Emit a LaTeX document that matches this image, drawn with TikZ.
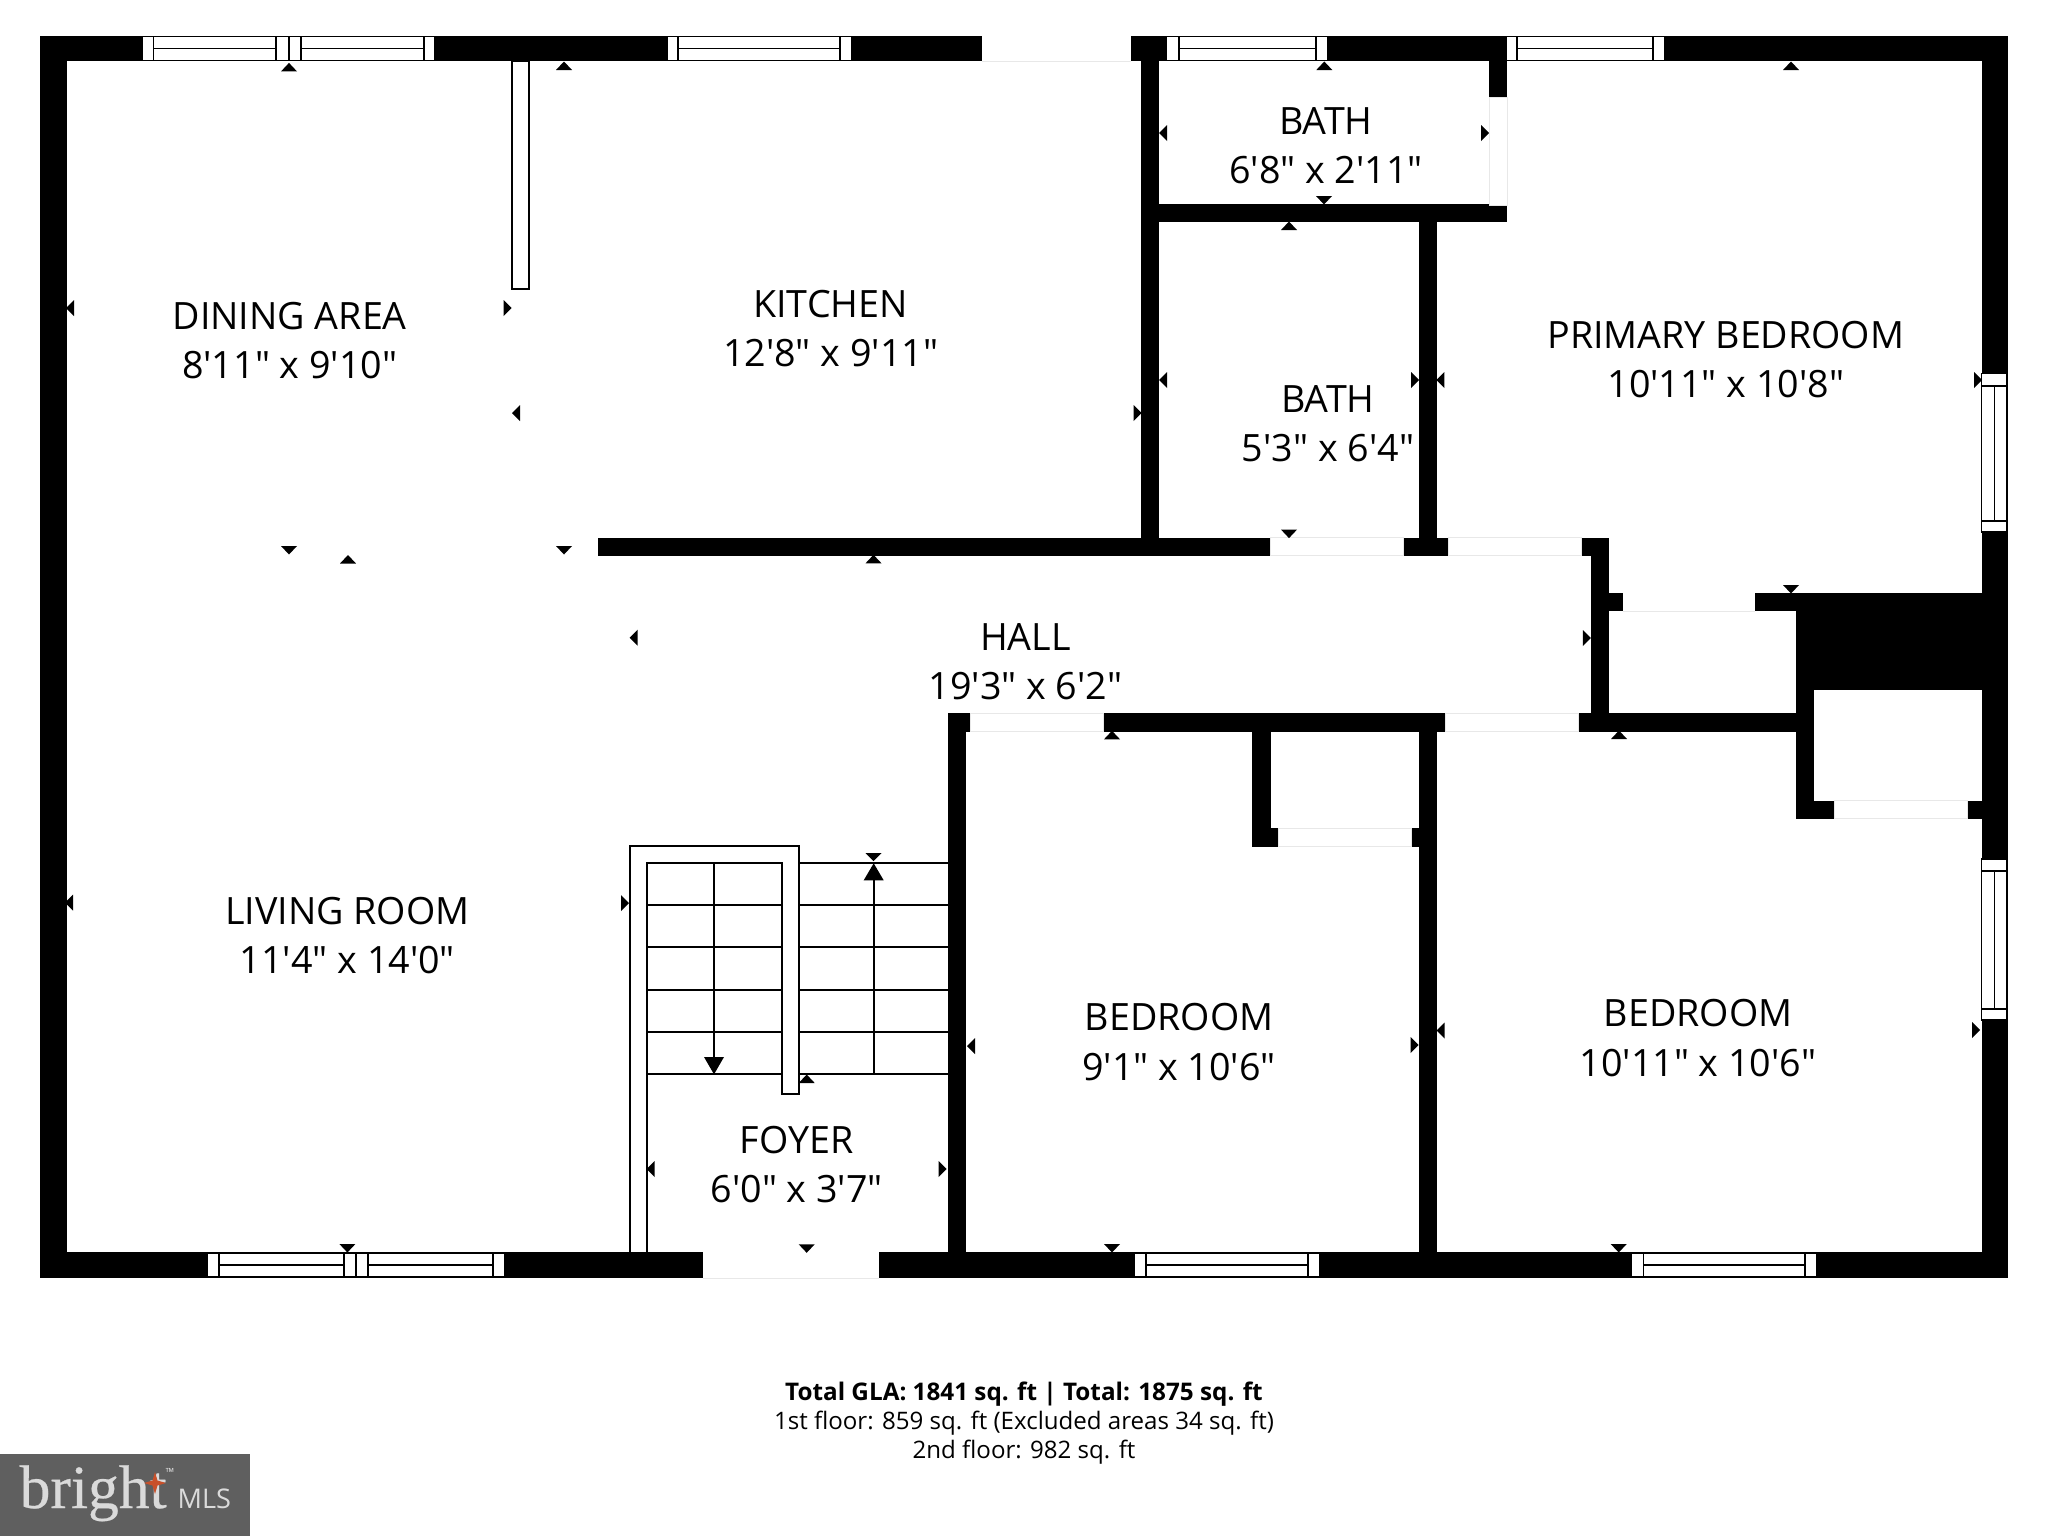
\documentclass[tikz,border=0pt]{standalone}
\usepackage{fontspec}
\setmainfont{Open Sans}[Ligatures=TeXOff]
\newfontfamily\logofont{Liberation Serif}[FakeBold=0.4]
\usepackage{xcolor}
\definecolor{doorgray}{HTML}{E8E8E8}
\definecolor{logogray}{HTML}{5F5F5F}
\definecolor{logotext}{HTML}{DADADA}
\definecolor{logostar}{HTML}{C8502A}
\tikzset{
  wall/.style={fill=black},
  door/.style={fill=white,draw=doorgray,line width=0.25pt},
  doorsill/.style={draw=doorgray,line width=0.25pt},
  winline/.style={draw=black,line width=0.55pt},
  dimtip/.style={fill=black},
  room/.style={align=center,inner sep=0pt,yshift=-0.1pt,font=\fontsize{10.7}{14}\selectfont},
  areatext/.style={inner sep=0pt,font=\fontsize{6.85}{8}\selectfont}
}
% one horizontal window: ends, inner lines, top, bottom
\newcommand{\hwindow}[6]{
  \draw[winline,fill=white] (#1,#5) rectangle (#4,#6);
  \draw[winline] (#2,#5) -- (#2,#6) (#3,#5) -- (#3,#6) (#2,{(#5+#6)/2}) -- (#3,{(#5+#6)/2});
}
\newcommand{\vwindow}[4]{
  \draw[winline,fill=white] (1981.5,#1) rectangle (2007,#4);
  \draw[winline] (1981.5,#2) -- (2007,#2) (1981.5,#3) -- (2007,#3) (1994.5,#2) -- (1994.5,#3);
}
\begin{document}
\begin{tikzpicture}[x=0.01cm,y=-0.01cm]
\useasboundingbox (0,0) rectangle (2048,1536);
\fill[white] (0,0) rectangle (2048,1536);

% outer walls
\fill[wall] (40,35.5) rectangle (982,61);
\fill[wall] (1131.4,35.5) rectangle (2007.5,61);
\fill[wall] (40,35.5) rectangle (67,1278.3);
\fill[wall] (1981.5,35.5) rectangle (2007.5,1278.3);
\fill[wall] (40,1252) rectangle (2007.5,1278.3);

% inner walls
\fill[wall] (1141,61) rectangle (1159,555.5);
\fill[wall] (1489,61) rectangle (1507,204);
\fill[wall] (1141,204) rectangle (1507,222);
\fill[wall] (1419,222) rectangle (1437,555.5);
\fill[wall] (598,537.5) rectangle (1608.7,555.5);
\fill[wall] (1590.5,537.5) rectangle (1608.7,731.5);
\fill[wall] (1608.7,593) rectangle (1795.5,611);
\fill[wall] (1795.5,593) rectangle (2007.5,690.3);
\fill[wall] (1795.5,593) rectangle (1813.6,818.7);
\fill[wall] (1795.5,800.7) rectangle (1981.5,818.7);
\fill[wall] (948,713.3) rectangle (1795.5,731.5);
\fill[wall] (948,713.3) rectangle (966,1252);
\fill[wall] (1252,731) rectangle (1270.5,846.7);
\fill[wall] (1252,828) rectangle (1437,846.7);
\fill[wall] (1419,713.3) rectangle (1437,1252);

% doors
\fill[white] (982,35) rectangle (1131.4,61);
\draw[doorsill] (982,61) -- (1131.4,61);
\fill[white] (702.7,1252) rectangle (879.3,1278.3);
\draw[doorsill] (702.7,1278.3) -- (879.3,1278.3);
\fill[white] (1622.7,593) rectangle (1755.4,611);
\draw[doorsill] (1622.7,611) -- (1755.4,611);
\draw[door] (1489.5,97) rectangle (1507,205.5);
\draw[door] (1270.5,537.5) rectangle (1403.5,555.5);
\draw[door] (1448.5,537.5) rectangle (1581,555.5);
\draw[door] (1834.7,800.7) rectangle (1967,818.7);
\draw[door] (970.4,713.3) rectangle (1103.6,731.5);
\draw[door] (1445.6,713.3) rectangle (1578.5,731.5);
\draw[door] (1278.7,828) rectangle (1411.7,846.7);

% windows
\hwindow{142}{153.5}{276}{289}{36.5}{60.5}
\hwindow{289}{301}{424}{435}{36.5}{60.5}
\hwindow{667}{678}{840}{851.5}{36.5}{60.5}
\hwindow{1166.5}{1178.6}{1316.4}{1328}{36.5}{60.5}
\hwindow{1505.7}{1517}{1653}{1664.7}{36.5}{60.5}
\hwindow{207}{219}{344}{356}{1253}{1277}
\hwindow{356}{368.4}{493.4}{505}{1253}{1277}
\hwindow{1134.5}{1146}{1308}{1319.5}{1253}{1277}
\hwindow{1631.5}{1643.5}{1805}{1816.5}{1253}{1277}
\vwindow{373.5}{385.8}{520.9}{532}
\vwindow{859.3}{870.7}{1009}{1020}

% half wall and stairs
\draw[winline,fill=white] (511.6,61) rectangle (529,288.6);
\draw[winline] (630,1252) -- (630,845.7) -- (798.7,845.7) -- (798.7,1094.3) -- (782,1094.3) -- (782,862.7) -- (646.7,862.7) -- (646.7,1252);
\foreach \y in {905,947.3,989.7,1032,1074.3}
  \draw[winline] (646.7,\y) -- (782,\y);
\foreach \y in {862.7,905,947.3,989.7,1032,1074.3}
  \draw[winline] (798.7,\y) -- (948,\y);
\draw[winline] (714,862.7) -- (714,1060);
\fill[dimtip] (704,1057) -- (724,1057) -- (714,1074.3) -- cycle;
\draw[winline] (873.7,1074.3) -- (873.7,878);
\fill[dimtip] (863.7,880.3) -- (883.7,880.3) -- (873.7,863.3) -- cycle;
\fill[dimtip] (865.5,853) -- (881.5,853) -- (873.5,861) -- cycle;

% dimension ticks
\foreach \x/\y in {289/67.4,564/66,348/559.5,873.5/559.3,1112/735.3,1619/735,806.7/1079,1324.3/66,1791/66,1289/226}
  \fill[dimtip] (\x-8,\y+4) -- (\x+8,\y+4) -- (\x,\y-4.5) -- cycle;
\foreach \x/\y in {289/550,564/550,1289/533.6,1324/200,1791/589,347.4/1248,806.7/1248.3,1112/1248,1618.7/1248}
  \fill[dimtip] (\x-8,\y-4) -- (\x+8,\y-4) -- (\x,\y+4.5) -- cycle;
\foreach \x/\y in {70/308,516/413,69/902.5,633.7/637.7,650.7/1169,971/1046,1440.4/380,1163/133,1163/380,1440.5/1030.5}
  \fill[dimtip] (\x+4,\y-8) -- (\x+4,\y+8) -- (\x-4,\y) -- cycle;
\foreach \x/\y in {507.6/308,1137.5/413,625/903,942.7/1169,1485/133,1415/380,1978/380,1586.8/638,1414.5/1045,1976/1030}
  \fill[dimtip] (\x-4,\y-8) -- (\x-4,\y+8) -- (\x+4,\y) -- cycle;

% room names
\node[room] (dining) at (289.7,340) {DINING AREA\\8'11" x 9'10"};
\node[room] (kitchen) at (830.6,328) {KITCHEN\\12'8" x 9'11"};
\node[room] (bathtop) at (1326,145) {BATH\\6'8" x 2'11"};
\node[room] (bathlow) at (1328,423) {BATH\\5'3" x 6'4"};
\node[room] (primary) at (1725.8,359) {PRIMARY BEDROOM\\10'11" x 10'8"};
\node[room] (hall) at (1025.5,661) {HALL\\19'3" x 6'2"};
\node[room] (living) at (347.4,935) {LIVING ROOM\\11'4" x 14'0"};
\node[room] (foyer) at (796.7,1164) {FOYER\\6'0" x 3'7"};
\node[room] (bedone) at (1179,1041.6) {BEDROOM\\9'1" x 10'6"};
\node[room] (bedtwo) at (1698,1037.7) {BEDROOM\\10'11" x 10'6"};

% area summary
\node[areatext] (total) at (1024,1394.5) {\fontsize{6.9}{8}\selectfont\textbf{Total GLA: 1841 sq. ft | Total: 1875 sq. ft}};
\node[areatext] (first) at (1024,1423.5) {1st floor: 859 sq. ft (Excluded areas 34 sq. ft)};
\node[areatext] (second) at (1024,1452.5) {2nd floor: 982 sq. ft};

% logo
\fill[logogray] (0,1454) rectangle (250,1536);
\node[anchor=base west,inner sep=0pt,text=logotext,font=\logofont\fontsize{17.5}{18}\selectfont] (bright) at (19,1508) {bright};
\node[anchor=base west,inner sep=0pt,text=logotext,font=\fontsize{7.7}{8}\selectfont] (mls) at (177,1508) {MLS};
\node[inner sep=0pt,text=logotext,font=\fontsize{3.2}{4}\selectfont] (tm) at (170,1472) {™};
\fill[logostar] (155,1472) -- (157.5,1480.5) -- (166,1483) -- (157.5,1485.5) -- (155,1494) -- (152.5,1485.5) -- (144,1483) -- (152.5,1480.5) -- cycle;
\end{tikzpicture}
\end{document}
